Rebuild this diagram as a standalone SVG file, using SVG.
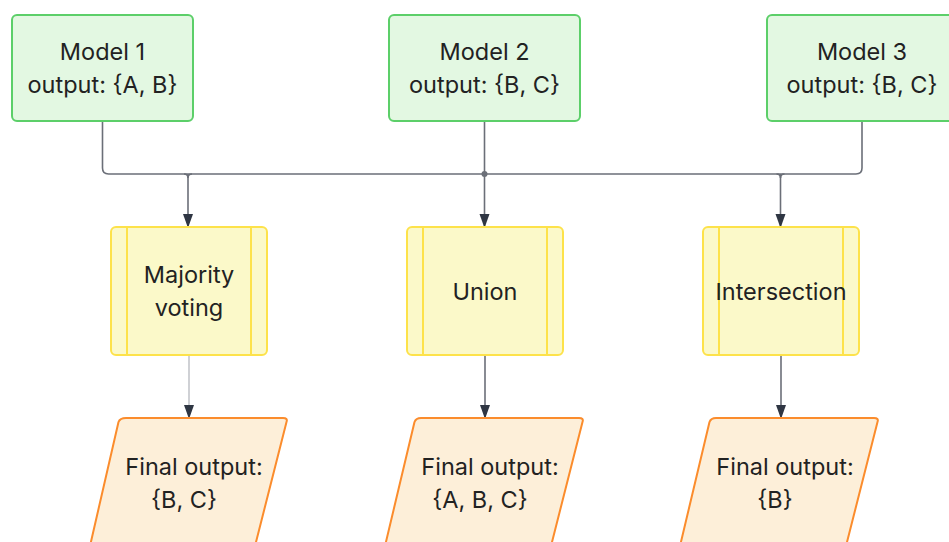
<svg xmlns="http://www.w3.org/2000/svg" width="949" height="542" viewBox="0 0 949 542">
<style>
.t{font-family:Inter,"Liberation Sans",sans-serif;font-size:23.5px;fill:#222;text-anchor:middle}
.model{fill:#e3f8e2;stroke:#5ccf69;stroke-width:2}
.proc{fill:#fbf9c9;stroke:#fde24a;stroke-width:2}
.out{fill:#fdefd9;stroke:#fb8c2c;stroke-width:2;stroke-linejoin:round}
.c{fill:none;stroke:#6b6f78;stroke-width:1.6}
</style>
<defs>
<marker id="ah" markerWidth="12" markerHeight="14" refX="6" refY="13" orient="0" markerUnits="userSpaceOnUse" viewBox="0 0 12 14">
<path d="M1,0 L11,0 L6,14 Z" fill="#2f3643"/>
</marker>
</defs>
<rect width="949" height="542" fill="#fff"/>
<g id="connectors">
<path class="c" d="M102.5,121 V168 Q102.5,174 108.5,174 H856 Q862,174 862,168 V121"/>
<path class="c" d="M484.5,121 V174"/>
<path class="c" d="M188,174 V227" marker-end="url(#ah)"/>
<path class="c" d="M484.5,174 V227" marker-end="url(#ah)"/>
<path class="c" d="M780.5,174 V227" marker-end="url(#ah)"/>
<path class="c" d="M184,174 Q188,174 188,178 Q188,174 192,174" />
<path class="c" d="M776.5,174 Q780.5,174 780.5,178 Q780.5,174 784.5,174" />
<circle cx="484.5" cy="174" r="3" fill="#6b6f78"/>
<path d="M189,355 V418" fill="none" stroke="#c4c6cb" stroke-width="1.6" marker-end="url(#ah)"/>
<path class="c" d="M485,355 V418" marker-end="url(#ah)"/>
<path class="c" d="M781,355 V418" marker-end="url(#ah)"/>
</g>
<g id="model1">
<rect class="model" x="12" y="15" width="181" height="106" rx="5"/>
<text class="t" x="102.5" y="60">Model 1</text>
<text class="t" x="102.5" y="93">output: {A, B}</text>
</g>
<g id="model2">
<rect class="model" x="389" y="15" width="191" height="106" rx="5"/>
<text class="t" x="484.5" y="60">Model 2</text>
<text class="t" x="484.5" y="93">output: {B, C}</text>
</g>
<g id="model3">
<rect class="model" x="767" y="15" width="195" height="106" rx="5"/>
<text class="t" x="862" y="60">Model 3</text>
<text class="t" x="862" y="93">output: {B, C}</text>
</g>
<g id="majority">
<rect class="proc" x="111" y="227" width="156" height="128" rx="5"/>
<line class="proc" x1="127" y1="227" x2="127" y2="355"/>
<line class="proc" x1="251" y1="227" x2="251" y2="355"/>
<text class="t" x="189" y="283">Majority</text>
<text class="t" x="189" y="316">voting</text>
</g>
<g id="union">
<rect class="proc" x="407" y="227" width="156" height="128" rx="5"/>
<line class="proc" x1="423" y1="227" x2="423" y2="355"/>
<line class="proc" x1="547" y1="227" x2="547" y2="355"/>
<text class="t" x="485" y="300">Union</text>
</g>
<g id="intersection">
<rect class="proc" x="703" y="227" width="156" height="128" rx="5"/>
<line class="proc" x1="719" y1="227" x2="719" y2="355"/>
<line class="proc" x1="843" y1="227" x2="843" y2="355"/>
<text class="t" x="781" y="300">Intersection</text>
</g>
<g id="final1">
<path class="out" d="M126,418 H283 Q288,418 286.5,422 L255,546 H90 L118.5,422 Q120,418 126,418 Z"/>
<text class="t" x="194" y="475">Final output:</text>
<text class="t" x="184" y="508">{B, C}</text>
</g>
<g id="final2">
<path class="out" d="M421,418 H579 Q584,418 582.5,422 L551,546 H385 L414.5,422 Q416,418 421,418 Z"/>
<text class="t" x="490" y="475">Final output:</text>
<text class="t" x="480" y="508">{A, B, C}</text>
</g>
<g id="final3">
<path class="out" d="M716,418 H874 Q879,418 877.5,422 L846,546 H680 L709.5,422 Q711,418 716,418 Z"/>
<text class="t" x="785" y="475">Final output:</text>
<text class="t" x="775" y="508">{B}</text>
</g>
</svg>
